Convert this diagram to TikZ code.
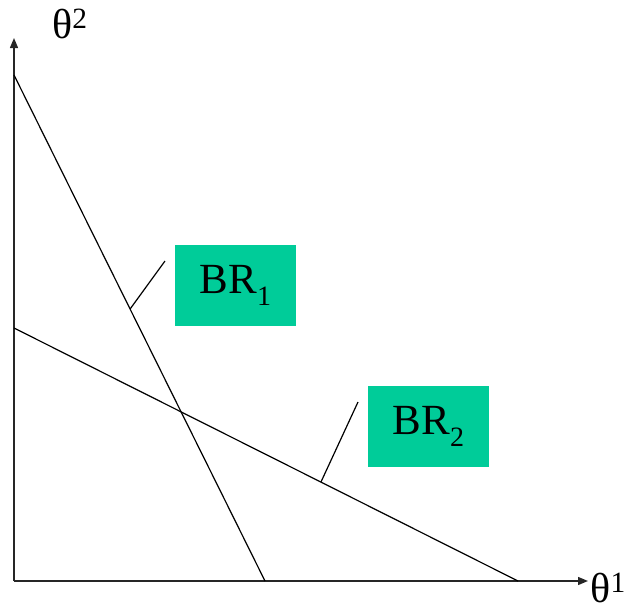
\documentclass[tikz,border=0pt]{standalone}
\usepackage{fontspec}
\setmainfont{Liberation Serif}
\usetikzlibrary{arrows.meta}
\definecolor{brgreen}{HTML}{00CC99}
\tikzset{
  axis/.style={line width=1.4pt, draw=black!85, -{Triangle[length=10pt,width=8pt]}},
  brline/.style={line width=1.2pt},
  brbox/.style={fill=brgreen, draw=none, minimum width=121pt, minimum height=81pt, inner sep=0pt, font=\fontsize{43}{46}\selectfont},
  axlabel/.style={font=\fontsize{42}{46}\selectfont, inner sep=0pt, text depth=0pt}
}
\newcommand{\mysub}[1]{\raisebox{-0.28em}{\fontsize{28}{30}\selectfont #1}}
\begin{document}
\begin{tikzpicture}[x=1pt,y=-1pt]
\useasboundingbox (0,0) rectangle (630,613);
% axes
\coordinate (O) at (14,581);
\coordinate (Ytop) at (14,38);
\coordinate (Xend) at (588,581);
\draw[axis] (O) -- (Ytop);
\draw[axis] (O) -- (Xend);
\node[axlabel, anchor=base west] (t2) at (52,38) {θ\textsuperscript{2}};
\node[axlabel, anchor=base east] (t1) at (626,602) {θ\textsuperscript{1}};
% best response lines
\coordinate (a1) at (14,75);
\coordinate (b1) at (265,581);
\coordinate (a2) at (14,328);
\coordinate (b2) at (518,581);
\draw[brline] (a1) -- (b1);
\draw[brline] (a2) -- (b2);
\path (a1) -- (b1) coordinate[pos=0.4625] (p1);
\path (a2) -- (b2) coordinate[pos=0.609] (p2);
% boxes
\node[brbox] (br1) at (235.5,285.5) {BR\mysub{1}};
\node[brbox] (br2) at (428.5,426.5) {BR\mysub{2}};
\coordinate (q1) at (165,261);
\coordinate (q2) at (358,402);
\draw[brline] (p1) -- (q1);
\draw[brline] (p2) -- (q2);
\end{tikzpicture}
\end{document}
